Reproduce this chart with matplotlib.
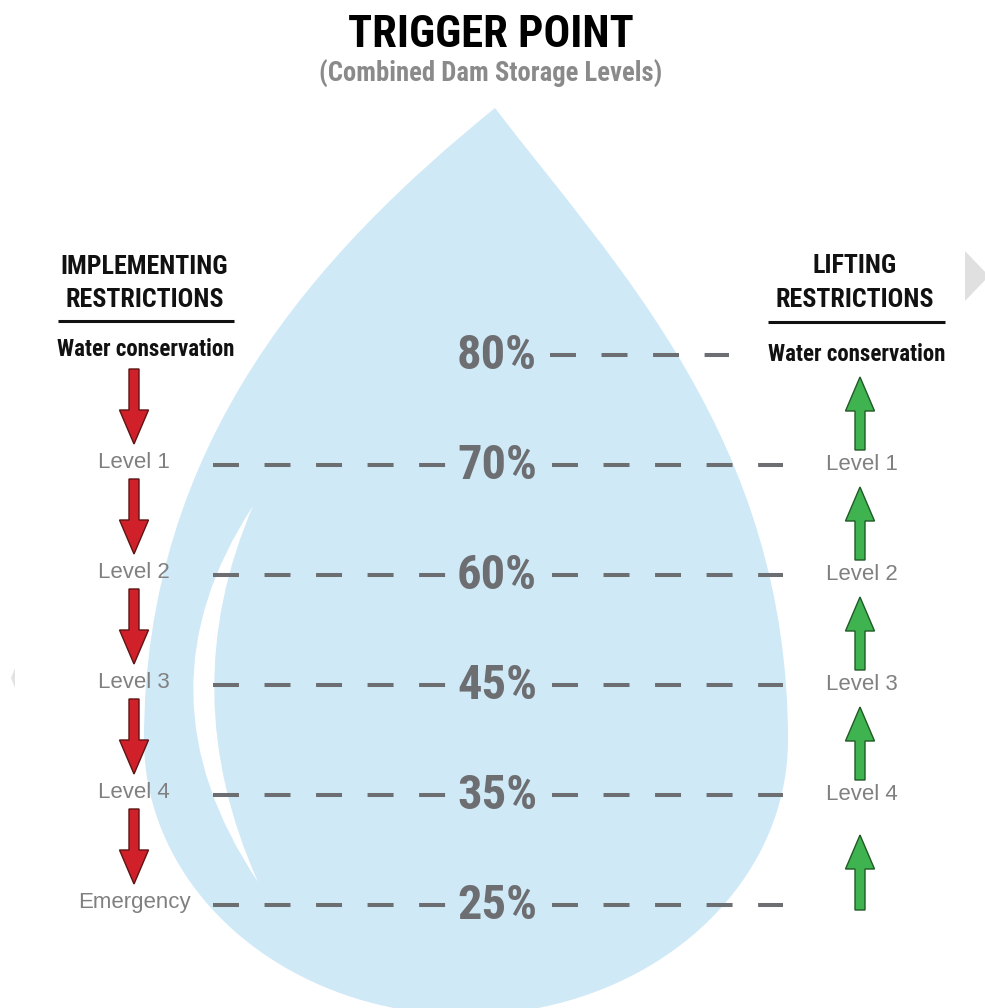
import numpy as np
import matplotlib
matplotlib.use("Agg")
import matplotlib.pyplot as plt
from matplotlib.path import Path
from matplotlib.patches import PathPatch, FancyArrow, Polygon
from matplotlib import font_manager as fm

plt.rcParams['lines.scale_dashes'] = False

# ---- data ----
title = "TRIGGER POINT"
subtitle = "(Combined Dam Storage Levels)"
thresholds = [80, 70, 60, 45, 35, 25]
implementing_levels = ["Water conservation", "Level 1", "Level 2", "Level 3", "Level 4", "Emergency"]
lifting_levels = ["Water conservation", "Level 1", "Level 2", "Level 3", "Level 4"]
left_header = ["IMPLEMENTING", "RESTRICTIONS"]
right_header = ["LIFTING", "RESTRICTIONS"]


# ---- fonts: look for a condensed bold face ----
def find_font(keys, bold=True):
    files = [f.fname for f in fm.fontManager.ttflist]
    for k in keys:
        for fn in files:
            base = fn.split('/')[-1].lower()
            if k.lower() in base:
                return fm.FontProperties(fname=fn)
    return None


COND = find_font(['LiberationSansNarrow-Bold.', 'RobotoCondensed-Bold.', 'NotoSans-CondensedBold.',
                  'DejaVuSansCondensed-Bold.', 'OpenSans-CondensedBold.', 'Roboto-Bold.'])
if COND is None:
    COND = fm.FontProperties(family='DejaVu Sans', weight='bold')
REGF = find_font(['LiberationSans-Regular.', 'Arimo-Regular.'])
if REGF is None:
    REGF = fm.FontProperties(family='DejaVu Sans')

# ---- layout ----
W, H = 985, 1008
row_y = [355 + 110 * i for i in range(len(thresholds))]
CX = 497
grey = '#6d6e71'

fig = plt.figure(figsize=(W / 100, H / 100), dpi=100)
ax = fig.add_axes([0, 0, 1, 1])
ax.set_xlim(0, W)
ax.set_ylim(H, 0)
ax.axis('off')
renderer = fig.canvas.get_renderer()


def fit_size(s, fp, target_w):
    t = ax.text(0, 0, s, fontproperties=fp, fontsize=20)
    w = t.get_window_extent(renderer).width
    t.remove()
    return 20 * target_w / w


def put(x, y, s, fp, size, color, **kw):
    return ax.text(x, y, s, fontproperties=fp, fontsize=size, color=color,
                   ha='center', va='baseline', **kw)


# ---- water drop ----
ecx, ecy, ea, eb = 466, 740, 322, 275
tip = (495, 108)
verts = [tip, (320, 250), (ecx - ea, 440), (ecx - ea, ecy)]
codes = [Path.MOVETO, Path.CURVE4, Path.CURVE4, Path.CURVE4]
for t in np.linspace(np.pi, 0, 90)[1:]:
    verts.append((ecx + ea * np.cos(t), ecy + eb * np.sin(t)))
    codes.append(Path.LINETO)
verts += [(ecx + ea, 440), (615, 265), tip, tip]
codes += [Path.CURVE4, Path.CURVE4, Path.CURVE4, Path.CLOSEPOLY]
ax.add_patch(PathPatch(Path(verts, codes), facecolor='#cfe9f7', edgecolor='none', zorder=1))

# highlight crescent
cres = Path([(253, 506), (131, 692), (258, 882), (173, 692), (253, 506), (253, 506)],
            [Path.MOVETO, Path.CURVE3, Path.CURVE3, Path.CURVE3, Path.CURVE3, Path.CLOSEPOLY])
ax.add_patch(PathPatch(cres, facecolor='white', edgecolor='none', zorder=2))

# carousel slivers at edges
ax.add_patch(Polygon([(965, 251), (989, 276), (965, 301)], closed=True,
                     facecolor='#e0e0e0', edgecolor='none', zorder=1))
ax.add_patch(Polygon([(15, 668), (11, 678), (15, 688)], closed=True,
                     facecolor='#e3e3e3', edgecolor='none', zorder=1))

# ---- titles ----
put(491, 47, title, COND, fit_size(title, COND, 285), 'black')
put(491, 82, subtitle, COND, fit_size(subtitle, COND, 342), '#8a8a8a')

# ---- headers ----
hs = fit_size(left_header[0], COND, 168)
put(144, 274, left_header[0], COND, hs, '#111111')
put(145, 307, left_header[1], COND, hs, '#111111')
put(855, 273, right_header[0], COND, hs, '#111111')
put(855, 307, right_header[1], COND, hs, '#111111')
ax.plot([58, 234], [321, 321], color='#111111', lw=2.2, solid_capstyle='butt')
ax.plot([768, 945], [322, 322], color='#111111', lw=2.2, solid_capstyle='butt')

# ---- level labels ----
ws = fit_size(implementing_levels[0], COND, 177)
ls = fit_size("Emergency", REGF, 112)
for i, lab in enumerate(implementing_levels):
    if i == 0:
        put(146, 356, lab, COND, ws, '#111111')
    else:
        put(134, row_y[i] + 3, lab, REGF, ls, '#808080')
for i, lab in enumerate(lifting_levels):
    if i == 0:
        put(857, 361, lab, COND, ws, '#111111')
    else:
        put(862, row_y[i] + 5, lab, REGF, ls, '#808080')

# ---- threshold rows ----
ps = fit_size("80%", COND, 80)
dash = (18.7, 18.4)
for i, t in enumerate(thresholds):
    y = row_y[i]
    put(CX, y + 14, f"{t}%", COND, ps, grey, zorder=4)
    if i == 0:
        ax.plot([550, 729], [y, y], color=grey, lw=2.9, dashes=dash, zorder=3)
    else:
        ax.plot([213, 446], [y, y], color=grey, lw=2.9, dashes=dash, zorder=3)
        ax.plot([552, 783], [y, y], color=grey, lw=2.9, dashes=dash, zorder=3)

# ---- arrows ----
for i in range(len(implementing_levels) - 1):
    y0 = row_y[i] + 14
    y1 = row_y[i + 1] - 21
    ax.add_patch(FancyArrow(134, y0, 0, y1 - y0, width=10, head_width=29, head_length=34,
                            length_includes_head=True, facecolor='#d0212b',
                            edgecolor='#5e1414', lw=1.0, zorder=3))
for i in range(len(thresholds) - 1):
    top = row_y[i] + (22 if i < 4 else 40)
    bot = row_y[i + 1] - (15 if i < 4 else -5)
    ax.add_patch(FancyArrow(860, bot, 0, top - bot, width=10, head_width=29, head_length=34,
                            length_includes_head=True, facecolor='#3fb34f',
                            edgecolor='#1f5a26', lw=1.0, zorder=3))

fig.savefig('out.png', dpi=100, facecolor='white')
